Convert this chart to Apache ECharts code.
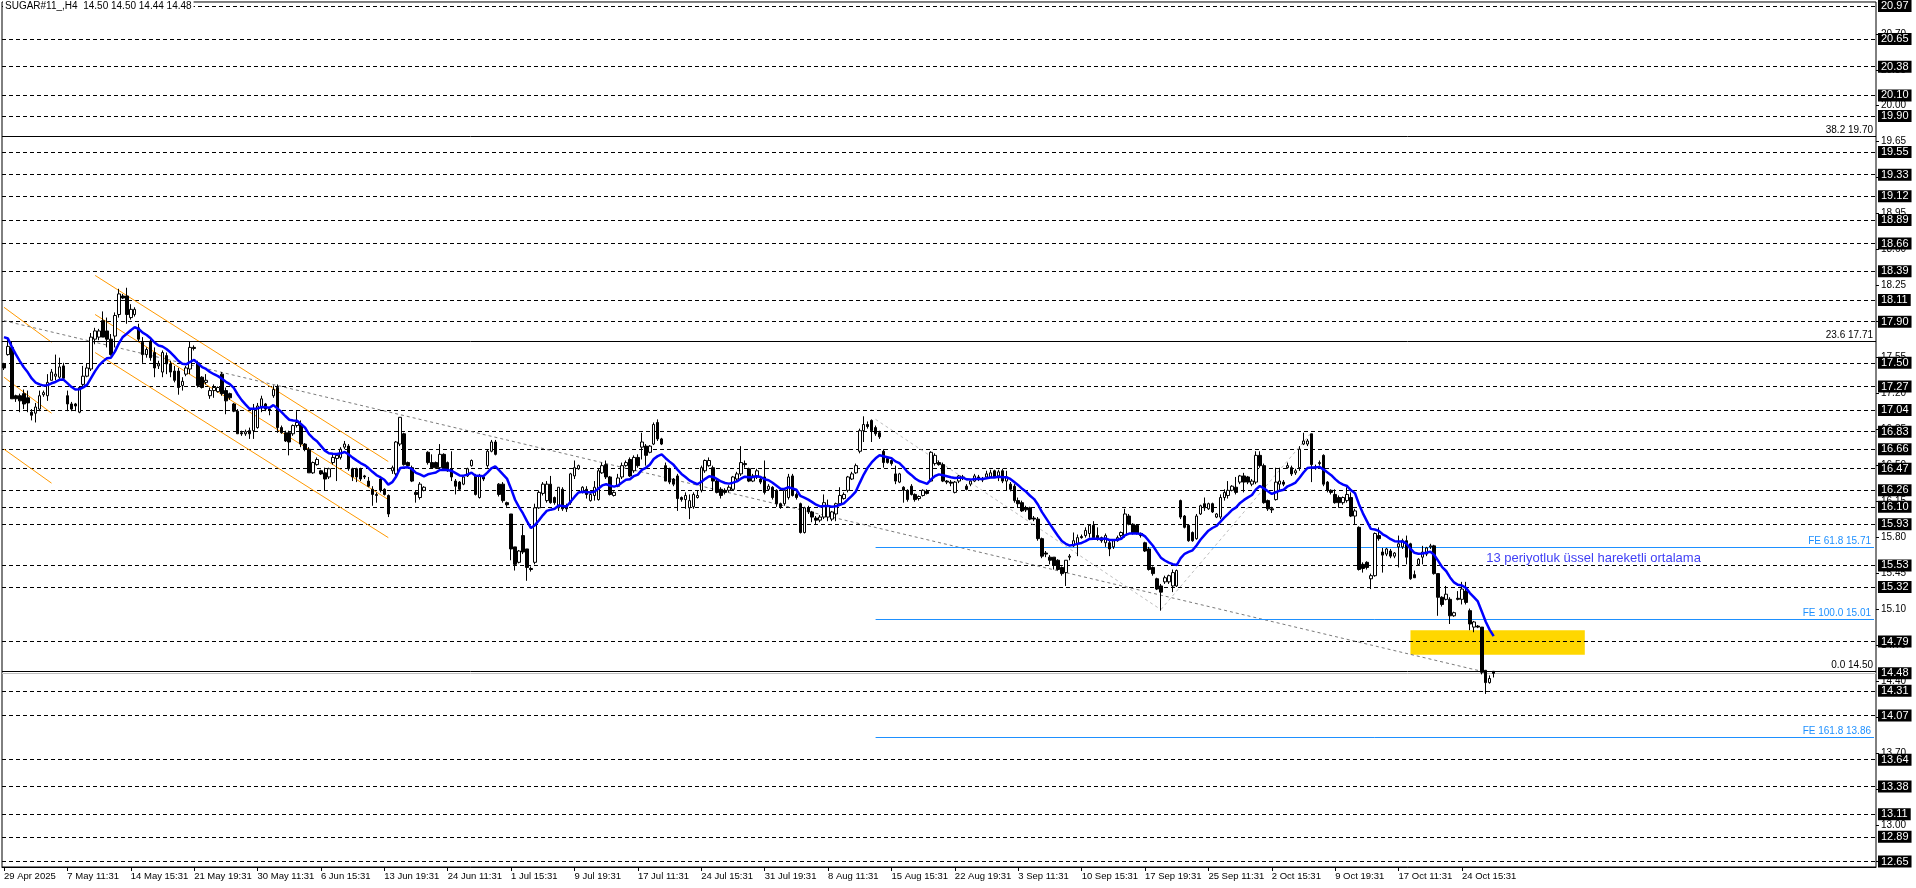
<!DOCTYPE html>
<html>
<head>
<meta charset="utf-8">
<script src="https://cdn.jsdelivr.net/npm/echarts@6/dist/echarts.min.js"></script>
<style>
html,body{margin:0;padding:0;background:#fff;}
#chart{width:1916px;height:888px;}
</style>
</head>
<body>
<div id="chart"></div>
<script>
// ---------------- DATA ----------------
const symbolName = 'SUGAR#11_,H4';

// H4 candles, one per bar: [open, high, low, close]
const candles = [
[17.49,17.50,17.43,17.45],[17.58,17.75,17.57,17.66],[17.65,17.71,17.15,17.15],[17.18,17.19,17.12,17.15],[17.18,17.20,17.02,17.13],
[17.20,17.24,17.05,17.10],[17.16,17.23,17.02,17.11],[17.02,17.05,16.94,16.99],[17.01,17.11,16.92,17.07],[17.05,17.23,17.03,17.18],
[17.19,17.23,17.17,17.21],[17.18,17.39,17.13,17.31],[17.33,17.44,17.33,17.41],[17.37,17.58,17.33,17.39],[17.36,17.55,17.33,17.46],
[17.47,17.50,17.33,17.35],[17.18,17.23,17.03,17.10],[17.10,17.12,17.03,17.05],[17.10,17.11,17.03,17.08],[17.02,17.27,17.01,17.26],
[17.29,17.47,17.26,17.37],[17.37,17.49,17.36,17.45],[17.44,17.79,17.42,17.75],[17.73,17.84,17.68,17.81],[17.75,17.83,17.72,17.81],
[17.91,18.00,17.75,17.75],[17.81,17.94,17.65,17.73],[17.73,17.78,17.57,17.58],[17.76,17.99,17.65,17.96],[17.97,18.22,17.94,18.17],
[18.15,18.17,18.12,18.13],[18.15,18.23,17.88,17.97],[17.94,18.07,17.92,18.02],[17.97,18.04,17.95,18.02],[17.84,17.88,17.71,17.73],
[17.70,17.75,17.50,17.58],[17.58,17.65,17.55,17.63],[17.71,17.73,17.52,17.55],[17.60,17.65,17.36,17.45],[17.47,17.52,17.44,17.49],
[17.41,17.62,17.36,17.60],[17.57,17.60,17.39,17.49],[17.49,17.52,17.36,17.41],[17.42,17.47,17.31,17.33],[17.42,17.45,17.19,17.26],
[17.28,17.36,17.23,17.32],[17.39,17.47,17.37,17.45],[17.44,17.71,17.39,17.65],[17.65,17.67,17.62,17.64],[17.50,17.52,17.26,17.28],
[17.36,17.37,17.25,17.26],[17.31,17.39,17.29,17.33],[17.18,17.26,17.15,17.23],[17.23,17.29,17.16,17.26],[17.22,17.27,17.21,17.26],
[17.39,17.41,17.18,17.20],[17.23,17.26,17.00,17.13],[17.20,17.21,17.14,17.16],[17.10,17.11,17.02,17.03],[17.03,17.05,16.81,16.81],
[16.82,16.84,16.79,16.81],[16.81,16.85,16.79,16.83],[16.84,16.87,16.76,16.81],[16.84,17.10,16.76,17.05],[16.87,17.11,16.86,17.08],
[17.07,17.18,17.02,17.15],[17.10,17.11,17.03,17.05],[17.05,17.07,16.99,17.04],[17.18,17.28,17.16,17.24],[17.26,17.29,16.82,16.87],
[16.87,16.89,16.81,16.82],[16.82,16.84,16.73,16.74],[16.82,16.84,16.60,16.73],[16.81,16.90,16.79,16.89],[16.89,17.03,16.87,16.92],
[16.90,16.94,16.68,16.71],[16.71,16.72,16.64,16.66],[16.66,16.68,16.43,16.43],[16.43,16.54,16.42,16.53],[16.51,16.58,16.50,16.56],
[16.45,16.46,16.41,16.42],[16.43,16.48,16.26,16.37],[16.39,16.48,16.37,16.47],[16.53,16.61,16.51,16.58],[16.57,16.61,16.35,16.60],
[16.58,16.68,16.56,16.66],[16.68,16.74,16.66,16.71],[16.69,16.71,16.45,16.47],[16.47,16.48,16.35,16.39],[16.47,16.48,16.34,16.39],
[16.47,16.48,16.35,16.37],[16.40,16.41,16.37,16.39],[16.35,16.39,16.29,16.30],[16.27,16.30,16.11,16.22],[16.21,16.24,16.14,16.22],
[16.37,16.40,16.24,16.26],[16.27,16.28,16.21,16.22],[16.21,16.22,16.00,16.03],[16.45,16.50,16.42,16.48],[16.42,16.74,16.40,16.73],
[16.71,16.97,16.69,16.97],[16.81,16.82,16.50,16.51],[16.53,16.54,16.49,16.50],[16.48,16.50,16.34,16.35],[16.24,16.26,16.14,16.22],
[16.19,16.34,16.17,16.32],[16.26,16.30,16.25,16.29],[16.63,16.64,16.51,16.53],[16.53,16.61,16.47,16.48],[16.53,16.54,16.47,16.48],
[16.48,16.71,16.47,16.61],[16.61,16.62,16.46,16.47],[16.53,16.54,16.44,16.45],[16.47,16.64,16.35,16.39],[16.35,16.37,16.22,16.30],
[16.34,16.35,16.26,16.27],[16.32,16.40,16.31,16.39],[16.40,16.48,16.39,16.47],[16.50,16.56,16.49,16.55],[16.40,16.42,16.21,16.22],
[16.19,16.42,16.18,16.40],[16.39,16.40,16.35,16.37],[16.50,16.66,16.48,16.64],[16.64,16.75,16.63,16.73],[16.73,16.75,16.60,16.61],
[16.32,16.33,16.20,16.22],[16.32,16.34,16.14,16.16],[16.14,16.15,16.10,16.12],[16.03,16.03,15.58,15.69],[15.71,15.71,15.48,15.54],
[15.56,15.68,15.55,15.67],[15.82,15.92,15.64,15.66],[15.69,15.69,15.38,15.51],[15.50,15.52,15.47,15.49],[15.56,16.13,15.54,16.09],
[16.09,16.26,16.08,16.24],[16.23,16.34,16.21,16.32],[16.16,16.35,16.14,16.32],[16.32,16.40,16.13,16.14],[16.19,16.20,16.12,16.14],
[16.09,16.29,16.06,16.29],[16.27,16.29,16.06,16.08],[16.11,16.13,16.05,16.08],[16.14,16.43,16.12,16.42],[16.40,16.55,16.37,16.48],
[16.47,16.51,16.46,16.50],[16.24,16.30,16.23,16.29],[16.27,16.30,16.18,16.22],[16.16,16.23,16.15,16.22],[16.21,16.35,16.16,16.29],
[16.17,16.47,16.16,16.45],[16.43,16.53,16.42,16.50],[16.51,16.55,16.37,16.39],[16.39,16.40,16.21,16.22],[16.21,16.25,16.20,16.24],
[16.30,16.42,16.29,16.38],[16.39,16.53,16.37,16.50],[16.50,16.55,16.49,16.53],[16.56,16.58,16.39,16.40],[16.45,16.60,16.43,16.58],
[16.58,16.61,16.48,16.50],[16.68,16.82,16.56,16.73],[16.69,16.71,16.50,16.60],[16.63,16.70,16.62,16.69],[16.71,16.92,16.70,16.90],
[16.92,16.95,16.74,16.76],[16.76,16.77,16.70,16.71],[16.50,16.53,16.35,16.35],[16.47,16.48,16.32,16.34],[16.37,16.38,16.30,16.32],
[16.40,16.42,16.06,16.18],[16.19,16.20,16.15,16.17],[16.17,16.24,16.08,16.21],[16.09,16.22,15.98,16.16],[16.10,16.24,16.08,16.22],
[16.19,16.26,16.18,16.21],[16.26,16.50,16.24,16.48],[16.45,16.56,16.43,16.55],[16.50,16.58,16.49,16.55],[16.48,16.50,16.26,16.35],
[16.35,16.37,16.23,16.24],[16.27,16.29,16.18,16.21],[16.26,16.28,16.22,16.24],[16.26,16.31,16.24,16.29],[16.27,16.40,16.26,16.39],
[16.37,16.44,16.35,16.42],[16.42,16.69,16.40,16.53],[16.52,16.55,16.48,16.51],[16.47,16.48,16.34,16.35],[16.35,16.42,16.34,16.40],
[16.39,16.47,16.37,16.45],[16.37,16.39,16.32,16.34],[16.39,16.55,16.22,16.24],[16.27,16.32,16.26,16.30],[16.29,16.30,16.17,16.19],
[16.26,16.27,16.10,16.13],[16.13,16.14,16.08,16.10],[16.13,16.28,16.11,16.26],[16.19,16.42,16.17,16.39],[16.40,16.42,16.20,16.21],
[16.22,16.24,16.17,16.19],[16.13,16.14,15.84,15.85],[15.85,16.10,15.84,16.09],[16.09,16.11,16.03,16.05],[16.05,16.06,15.95,16.00],
[15.99,16.01,15.93,15.97],[15.97,16.02,15.95,16.00],[16.00,16.22,15.98,16.14],[16.00,16.17,15.96,16.11],[15.98,16.06,15.96,16.05],
[16.03,16.14,15.96,16.13],[16.13,16.29,16.11,16.21],[16.18,16.24,16.17,16.22],[16.26,16.40,16.24,16.39],[16.37,16.44,16.36,16.42],
[16.43,16.52,16.42,16.50],[16.64,16.86,16.62,16.84],[16.84,16.98,16.73,16.90],[16.90,16.93,16.86,16.88],[16.94,16.95,16.73,16.84],
[16.87,16.89,16.79,16.81],[16.82,16.84,16.76,16.78],[16.64,16.66,16.48,16.53],[16.57,16.59,16.52,16.53],[16.55,16.56,16.50,16.52],
[16.42,16.50,16.32,16.35],[16.34,16.43,16.33,16.42],[16.29,16.30,16.14,16.26],[16.26,16.27,16.15,16.17],[16.30,16.32,16.21,16.22],
[16.22,16.23,16.15,16.17],[16.18,16.21,16.16,16.20],[16.21,16.27,16.20,16.26],[16.25,16.27,16.22,16.23],[16.35,16.64,16.34,16.63],
[16.52,16.62,16.50,16.60],[16.53,16.55,16.50,16.51],[16.51,16.53,16.34,16.35],[16.35,16.36,16.32,16.34],[16.34,16.36,16.30,16.33],
[16.24,16.35,16.23,16.34],[16.35,16.41,16.33,16.40],[16.39,16.41,16.36,16.38],[16.30,16.32,16.26,16.27],[16.32,16.36,16.30,16.35],
[16.35,16.42,16.34,16.40],[16.39,16.41,16.35,16.37],[16.36,16.39,16.34,16.37],[16.39,16.45,16.37,16.42],[16.39,16.46,16.38,16.43],
[16.45,16.46,16.38,16.39],[16.40,16.46,16.35,16.44],[16.45,16.47,16.33,16.35],[16.35,16.45,16.26,16.39],[16.32,16.34,16.25,16.27],
[16.30,16.32,16.14,16.16],[16.16,16.19,16.09,16.13],[16.14,16.16,16.05,16.06],[16.09,16.11,16.05,16.07],[16.09,16.10,15.97,15.98],
[15.99,16.01,15.96,15.98],[15.98,16.00,15.77,15.79],[15.79,15.80,15.60,15.62],[15.65,15.67,15.61,15.64],[15.61,15.63,15.54,15.58],
[15.61,15.61,15.49,15.53],[15.58,15.59,15.48,15.49],[15.51,15.52,15.43,15.45],[15.46,15.58,15.33,15.58],[15.61,15.64,15.58,15.62],
[15.72,15.85,15.71,15.77],[15.74,15.83,15.62,15.80],[15.81,15.83,15.79,15.80],[15.82,15.90,15.80,15.87],[15.84,15.93,15.80,15.92],
[15.92,15.96,15.80,15.80],[15.82,15.90,15.77,15.79],[15.80,15.81,15.75,15.77],[15.75,15.84,15.71,15.82],[15.75,15.77,15.62,15.69],
[15.71,15.78,15.69,15.77],[15.77,15.82,15.76,15.80],[15.82,15.86,15.80,15.85],[15.82,16.08,15.80,16.03],[16.01,16.03,15.92,15.93],
[15.93,15.94,15.83,15.84],[15.92,15.93,15.83,15.84],[15.84,15.85,15.80,15.82],[15.75,15.76,15.66,15.67],[15.69,15.71,15.48,15.49],
[15.51,15.52,15.43,15.45],[15.40,15.41,15.29,15.30],[15.33,15.35,15.09,15.27],[15.37,15.43,15.35,15.41],[15.37,15.44,15.35,15.43],
[15.33,15.49,15.27,15.46],[15.33,15.49,15.32,15.48],[16.16,16.17,15.98,16.00],[16.01,16.02,15.89,15.90],[15.92,15.93,15.76,15.77],
[15.85,15.86,15.76,15.77],[15.79,16.03,15.78,16.01],[16.03,16.12,16.02,16.11],[16.13,16.19,16.06,16.09],[16.08,16.14,16.07,16.13],
[16.13,16.14,16.04,16.05],[16.00,16.04,15.99,16.03],[16.00,16.22,15.98,16.19],[16.19,16.27,16.16,16.24],[16.21,16.35,16.18,16.26],
[16.26,16.31,16.25,16.30],[16.29,16.39,16.22,16.24],[16.34,16.41,16.32,16.40],[16.40,16.43,16.24,16.34],[16.39,16.40,16.32,16.34],
[16.32,16.37,16.30,16.35],[16.34,16.64,16.32,16.60],[16.60,16.64,16.48,16.50],[16.50,16.52,16.13,16.14],[16.16,16.17,16.06,16.08],
[16.08,16.10,16.04,16.07],[16.17,16.48,16.16,16.34],[16.32,16.48,16.26,16.35],[16.34,16.36,16.30,16.32],[16.48,16.53,16.47,16.50],
[16.48,16.50,16.40,16.42],[16.43,16.47,16.41,16.45],[16.48,16.69,16.45,16.66],[16.71,16.82,16.70,16.74],[16.71,16.76,16.69,16.74],
[16.81,16.81,16.34,16.51],[16.49,16.51,16.46,16.48],[16.52,16.55,16.50,16.53],[16.60,16.61,16.30,16.32],[16.34,16.35,16.24,16.26],
[16.26,16.27,16.22,16.24],[16.22,16.27,16.13,16.14],[16.19,16.21,16.09,16.14],[16.14,16.20,16.12,16.19],[16.16,16.29,16.14,16.22],
[16.19,16.24,16.00,16.01],[16.01,16.08,15.93,16.06],[15.90,15.91,15.48,15.49],[15.54,15.56,15.46,15.50],[15.56,15.57,15.49,15.51],
[15.40,15.45,15.30,15.43],[15.43,15.85,15.42,15.84],[15.82,15.90,15.77,15.79],[15.66,15.70,15.46,15.63],[15.64,15.70,15.62,15.69],
[15.67,15.69,15.60,15.62],[15.62,15.66,15.60,15.65],[15.71,15.82,15.51,15.74],[15.71,15.79,15.69,15.77],[15.77,15.82,15.54,15.61],
[15.74,15.75,15.39,15.40],[15.44,15.48,15.41,15.41],[15.54,15.60,15.53,15.59],[15.61,15.72,15.54,15.66],[15.64,15.71,15.62,15.70],
[15.71,15.74,15.69,15.72],[15.72,15.73,15.44,15.45],[15.45,15.45,15.04,15.22],[15.22,15.23,15.13,15.15],[15.20,15.33,15.19,15.25],
[15.20,15.22,14.96,15.04],[15.04,15.08,15.03,15.07],[15.21,15.28,15.19,15.20],[15.20,15.37,15.15,15.30],[15.28,15.37,15.15,15.17],
[15.09,15.11,14.90,14.96],[14.93,14.99,14.88,14.98],[14.94,14.95,14.92,14.93],[14.93,14.93,14.47,14.49],[14.51,14.51,14.28,14.39],
[14.39,14.46,14.38,14.43],[14.50,14.50,14.44,14.48]
];

// bottom time axis: one label every 16 bars
const timeLabels = ['29 Apr 2025','7 May 11:31','14 May 15:31','21 May 19:31','30 May 11:31','6 Jun 15:31',
  '13 Jun 19:31','24 Jun 11:31','1 Jul 15:31','9 Jul 19:31','17 Jul 11:31','24 Jul 15:31','31 Jul 19:31',
  '8 Aug 11:31','15 Aug 15:31','22 Aug 19:31','3 Sep 11:31','10 Sep 15:31','17 Sep 19:31','25 Sep 11:31',
  '2 Oct 15:31','9 Oct 19:31','17 Oct 11:31','24 Oct 15:31'];
const barsPerTimeLabel = 16;

// right price scale ticks
const priceTicks = [12.65,13.00,13.35,13.70,14.05,14.40,14.75,15.10,15.45,15.80,16.15,16.50,16.85,17.20,
  17.55,17.90,18.25,18.60,18.95,19.30,19.65,20.00,20.35,20.70];

// dashed horizontal price levels (labelled in black boxes)
const levelPrices = [20.97,20.65,20.38,20.10,19.90,19.55,19.33,19.12,18.89,18.66,18.39,18.11,17.90,17.50,
  17.27,17.04,16.83,16.66,16.47,16.26,16.10,15.93,15.53,15.32,14.79,14.31,14.07,13.64,13.38,13.11,12.89,12.65];
const bidPrice = 14.48;

// Fibonacci retracement lines [ratio, price]
const fiboLevels = [['38.2',19.70],['23.6',17.71],['0.0',14.50]];
// Fibonacci expansion lines [ratio, price], drawn from bar feStartBar
const feLevels = [['61.8',15.71],['100.0',15.01],['161.8',13.86]];
const feStartBar = 220;
// Fibonacci expansion swing points [bar, price]
const feSwing = [[220,16.95],[292,15.10],[330,16.82]];

// descending price channels [[bar, price],[bar, price]]
const channelLines = [
  [[23,18.35],[97,16.54]], [[23,17.97],[97,16.17]], [[23,17.60],[97,15.80]],
  [[0,18.04],[12,17.70]], [[0,17.36],[12,17.01]], [[0,16.66],[12,16.33]]
];
// long trend line [bar, price]
const trendLine = [[0,17.91],[373,14.50]];
// highlighted zone [bar, price] corners
const zoneBox = [[355,14.90],[399,14.66]];

// 13-period EMA (value at the first bar)
const emaPeriod = 13;
const emaFirst = 17.75;
const emaNote = '13 periyotluk üssel hareketli ortalama';
const emaNoteAt = [374, 15.60];

// ---------------- LAYOUT ----------------
const totalSlots = 473;
const FONT = 'Liberation Sans, Arial, sans-serif';

const cats = Array.from({length: totalSlots}, (_, i) => String(i));
const closes = candles.map(c => c[3]);
const k = 2 / (emaPeriod + 1);
const ema = [];
closes.forEach((c, i) => {
  ema.push(i === 0 ? emaFirst : +(ema[i - 1] + (c - ema[i - 1]) * k).toFixed(4));
});
const last = candles[candles.length - 1];
const titleText = symbolName + '  ' + last.map(v => v.toFixed(2)).join(' ');

const yMin = 12.597, yMax = 21.009;

const option = {
  animation: false,
  backgroundColor: '#fff',
  title: {
    text: titleText, left: 3, top: 0, padding: [1, 2], backgroundColor: '#fff',
    textStyle: {fontSize: 10, fontWeight: 'normal', color: '#000', fontFamily: FONT}
  },
  grid: {left: 2, right: 40, top: 1, bottom: 21, show: true, borderColor: '#000', borderWidth: 1, backgroundColor: '#fff'},
  xAxis: {
    type: 'category', data: cats, boundaryGap: true,
    axisLine: {show: true, lineStyle: {color: '#000'}},
    axisTick: {show: true, alignWithLabel: true, length: 4, lineStyle: {color: '#000'},
      interval: (i) => i % barsPerTimeLabel === 0 && i / barsPerTimeLabel < timeLabels.length},
    axisLabel: {show: true, align: 'left', margin: 4, fontSize: 9.5, color: '#000', fontFamily: FONT,
      interval: (i) => i % barsPerTimeLabel === 0 && i / barsPerTimeLabel < timeLabels.length,
      formatter: (v, i) => timeLabels[i / barsPerTimeLabel] || ''},
    splitLine: {show: false}
  },
  yAxis: [
    {
      type: 'value', position: 'right', min: yMin, max: yMax, scale: true,
      axisLine: {show: false}, splitLine: {show: false},
      axisTick: {show: true, customValues: priceTicks, length: 3, lineStyle: {color: '#000'}},
      axisLabel: {show: true, customValues: priceTicks, margin: 5, fontSize: 10, color: '#000', fontFamily: FONT,
        formatter: v => v.toFixed(2)}
    },
    {
      type: 'value', position: 'right', min: yMin, max: yMax, scale: true, z: 10,
      axisLine: {show: false}, splitLine: {show: false}, axisTick: {show: false},
      axisLabel: {show: true, customValues: levelPrices.concat([bidPrice]), margin: 2, fontSize: 11,
        color: '#fff', backgroundColor: '#000', padding: [1, 3, 0, 3], fontFamily: FONT,
        formatter: v => v.toFixed(2)}
    }
  ],
  series: [
    { // dashed price levels
      type: 'line', data: [], z: 1, silent: true,
      markLine: {silent: true, symbol: ['none', 'none'], label: {show: false},
        lineStyle: {type: [4, 3], color: '#000', width: 1},
        data: levelPrices.map(v => ({yAxis: v}))}
    },
    { // highlighted zone
      type: 'line', data: [], z: 2, silent: true,
      markArea: {silent: true, itemStyle: {color: '#ffd700', opacity: 1},
        data: [[{coord: zoneBox[0]}, {coord: zoneBox[1]}]]}
    },
    { // drawings: channels, trend line, FE swing lines
      type: 'line', data: [], z: 3, silent: true,
      markLine: {silent: true, symbol: ['none', 'none'], label: {show: false},
        data: [
          ...channelLines.map(l => [{coord: l[0], lineStyle: {color: '#ff9900', width: 1, type: 'solid'}}, {coord: l[1]}]),
          [{coord: trendLine[0], lineStyle: {color: '#7a7a7a', width: 1, type: [3, 3]}}, {coord: trendLine[1]}],
          [{coord: feSwing[0], lineStyle: {color: '#bdbdbd', width: 1, type: [3, 3]}}, {coord: feSwing[1]}],
          [{coord: feSwing[1], lineStyle: {color: '#bdbdbd', width: 1, type: [3, 3]}}, {coord: feSwing[2]}]
        ]}
    },
    { // fibo retracement + FE expansion lines
      type: 'line', data: [], z: 4, silent: true,
      markLine: {silent: true, symbol: ['none', 'none'],
        label: {show: true, position: 'insideEndTop', formatter: '{b}', fontSize: 10, fontFamily: FONT, distance: [3, 1], color: '#000'},
        data: [
          ...fiboLevels.map(([r, v]) => ({name: r + ' ' + v.toFixed(2), yAxis: v, lineStyle: {color: '#000', width: 1, type: 'solid'}})),
          {name: '', yAxis: bidPrice, lineStyle: {color: '#c0c0c0', width: 1, type: 'solid'}, label: {show: false}},
          ...feLevels.map(([r, v]) => [
            {name: 'FE ' + r + ' ' + v.toFixed(2), coord: [feStartBar, v],
              lineStyle: {color: '#1e90ff', width: 1, type: 'solid'}, label: {color: '#1e90ff'}},
            {coord: [totalSlots - 1, v]}
          ])
        ]}
    },
    { // candles
      type: 'candlestick', z: 5, barWidth: 3, large: false,
      data: candles.map(c => [c[0], c[3], c[2], c[1]]),
      itemStyle: {color: '#fff', color0: '#000', borderColor: '#000', borderColor0: '#000', borderWidth: 1,
        borderColorDoji: '#000'}
    },
    { // EMA
      type: 'line', z: 6, data: ema, symbol: 'none', smooth: false, silent: true,
      lineStyle: {color: '#0000ff', width: 2.5}
    },
    { // EMA note
      type: 'line', data: [], z: 7, silent: true,
      markPoint: {silent: true, symbol: 'rect', symbolSize: 1, itemStyle: {color: 'rgba(0,0,0,0)'},
        label: {show: true, position: 'right', distance: 0, formatter: emaNote, color: '#3f3ff5', fontSize: 13, fontFamily: FONT},
        data: [{coord: emaNoteAt}]}
    }
  ]
};

const chart = echarts.init(document.getElementById('chart'), null, {renderer: 'canvas'});
chart.setOption(option);
</script>
</body>
</html>
